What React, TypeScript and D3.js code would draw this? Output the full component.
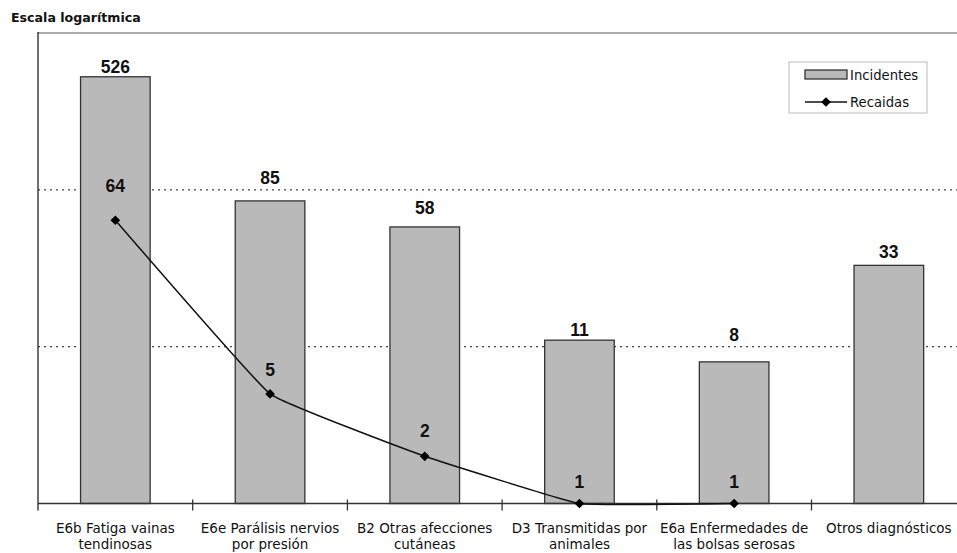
import React from 'react'
import * as d3 from 'd3'

const categories = [
  ['E6b Fatiga vainas', 'tendinosas'],
  ['E6e Parálisis nervios', 'por presión'],
  ['B2 Otras afecciones', 'cutáneas'],
  ['D3 Transmitidas por', 'animales'],
  ['E6a Enfermedades de', 'las bolsas serosas'],
  ['Otros diagnósticos'],
]
const incidentes = [526, 85, 58, 11, 8, 33]
const recaidas: (number | null)[] = [64, 5, 2, 1, 1, null]
const gridValues = [10, 100]

// hand nudges for the value labels (pixels above the mark)
const barLabelGap = [4, 17, 13, 4, 21, 7]
const lineLabelGap = [28, 18, 19, 16, 16, 0]

const width = 957
const height = 553

function drawChart(svgRef: React.RefObject<SVGSVGElement>) {
  const left = 38
  const step = 154.7
  const bottom = 503.5
  const top = 33

  const svg = d3.select(svgRef.current)
  svg.selectAll('*').remove()

  const keys = categories.map((c, i) => String(i))
  const x = d3.scaleBand().domain(keys).range([left, left + step * keys.length])
  const y = d3.scaleLog().domain([1, 1000]).range([bottom, top])
  const barW = x.bandwidth() * 0.45

  // title
  svg.append('text')
    .attr('x', 11).attr('y', 22)
    .attr('font-family', 'DejaVu Sans, Verdana, sans-serif')
    .attr('font-size', 12.6).attr('font-weight', 'bold')
    .attr('fill', '#111')
    .text('Escala logarítmica')

  // top border
  svg.append('line')
    .attr('x1', left).attr('x2', width)
    .attr('y1', y(1000)).attr('y2', y(1000))
    .attr('stroke', '#555').attr('stroke-width', 1)

  // grid
  svg.append('g').selectAll('line')
    .data(gridValues)
    .join('line')
      .attr('x1', left).attr('x2', width)
      .attr('y1', d => y(d)).attr('y2', d => y(d))
      .attr('stroke', '#444').attr('stroke-width', 1.2)
      .attr('stroke-dasharray', '2,4')

  // bars
  svg.append('g').selectAll('rect')
    .data(incidentes)
    .join('rect')
      .attr('x', (d, i) => x(String(i))! + (x.bandwidth() - barW) / 2)
      .attr('y', d => y(d))
      .attr('width', barW)
      .attr('height', d => bottom - y(d))
      .attr('fill', '#b9b9b9')
      .attr('stroke', '#333').attr('stroke-width', 1.3)

  svg.append('g').selectAll('text')
    .data(incidentes)
    .join('text')
      .attr('x', (d, i) => x(String(i))! + x.bandwidth() / 2)
      .attr('y', (d, i) => y(d) - barLabelGap[i])
      .attr('text-anchor', 'middle')
      .attr('font-family', 'Liberation Sans, Arial, sans-serif')
      .attr('font-size', 17.5).attr('font-weight', 'bold')
      .attr('fill', '#111')
      .text(d => d)

  // axes
  svg.append('line')
    .attr('x1', left).attr('x2', left)
    .attr('y1', top - 1).attr('y2', bottom + 7)
    .attr('stroke', '#222').attr('stroke-width', 1.3)
  svg.append('line')
    .attr('x1', left).attr('x2', width)
    .attr('y1', bottom).attr('y2', bottom)
    .attr('stroke', '#333').attr('stroke-width', 1.3)
  svg.append('g').selectAll('line')
    .data(keys.slice(1))
    .join('line')
      .attr('x1', d => x(d)!).attr('x2', d => x(d)!)
      .attr('y1', bottom - 4).attr('y2', bottom + 7)
      .attr('stroke', '#333').attr('stroke-width', 1.3)

  const catLabels = svg.append('g').selectAll('text')
    .data(categories)
    .join('text')
      .attr('x', (d, i) => x(String(i))! + x.bandwidth() / 2)
      .attr('y', 533)
      .attr('text-anchor', 'middle')
      .attr('font-family', 'DejaVu Sans, Verdana, sans-serif')
      .attr('font-size', 13.5)
      .attr('fill', '#111')
  catLabels.selectAll('tspan')
    .data(d => d)
    .join('tspan')
      .attr('x', function () { return (this.parentNode as SVGTextElement).getAttribute('x') })
      .attr('dy', (d, i) => i === 0 ? 0 : 16)
      .text(d => d)

  // line (lightly smoothed, like the original)
  const pts = recaidas.map((v, i) => ({ v, i }))
  const line = d3.line<{ v: number | null; i: number }>()
    .defined(d => d.v !== null)
    .x(d => x(String(d.i))! + x.bandwidth() / 2)
    .y(d => y(d.v as number))
    .curve(d3.curveCardinal.tension(0.75))

  svg.append('path')
    .datum(pts)
    .attr('d', line)
    .attr('fill', 'none')
    .attr('stroke', '#111').attr('stroke-width', 1.5)

  const diamond = d3.symbol().type(d3.symbolDiamond2).size(60)
  const valid = pts.filter(d => d.v !== null)
  svg.append('g').selectAll('path')
    .data(valid)
    .join('path')
      .attr('transform', d => `translate(${x(String(d.i))! + x.bandwidth() / 2},${y(d.v as number)})`)
      .attr('d', diamond)
      .attr('fill', '#000')

  svg.append('g').selectAll('text')
    .data(valid)
    .join('text')
      .attr('x', d => x(String(d.i))! + x.bandwidth() / 2)
      .attr('y', d => y(d.v as number) - lineLabelGap[d.i])
      .attr('text-anchor', 'middle')
      .attr('font-family', 'Liberation Sans, Arial, sans-serif')
      .attr('font-size', 17.5).attr('font-weight', 'bold')
      .attr('fill', '#111')
      .text(d => d.v as number)

  // legend
  const lg = svg.append('g').attr('transform', 'translate(789,62)')
  lg.append('rect')
    .attr('width', 138).attr('height', 51)
    .attr('fill', '#fff')
    .attr('stroke', '#bbb').attr('stroke-width', 1)
  lg.append('rect')
    .attr('x', 16).attr('y', 8).attr('width', 42).attr('height', 9)
    .attr('fill', '#b9b9b9').attr('stroke', '#333').attr('stroke-width', 1.3)
  lg.append('text')
    .attr('x', 61).attr('y', 18)
    .attr('font-family', 'DejaVu Sans, Verdana, sans-serif')
    .attr('font-size', 13.2).attr('fill', '#111')
    .text('Incidentes')
  lg.append('line')
    .attr('x1', 16).attr('x2', 58).attr('y1', 40).attr('y2', 40)
    .attr('stroke', '#111').attr('stroke-width', 1.5)
  lg.append('path')
    .attr('transform', 'translate(37,40)')
    .attr('d', diamond)
    .attr('fill', '#000')
  lg.append('text')
    .attr('x', 61).attr('y', 45)
    .attr('font-family', 'DejaVu Sans, Verdana, sans-serif')
    .attr('font-size', 13.2).attr('fill', '#111')
    .text('Recaidas')
}

const App: React.FunctionComponent = () => {
  const svg = React.useRef<SVGSVGElement>(null)

  React.useEffect(() => {
    document.body.style.margin = '0'
    drawChart(svg)
  }, [svg])

  return (
    <svg ref={svg} width={width} height={height} style={{ display: 'block', background: '#fff' }} />
  )
}

export default App
